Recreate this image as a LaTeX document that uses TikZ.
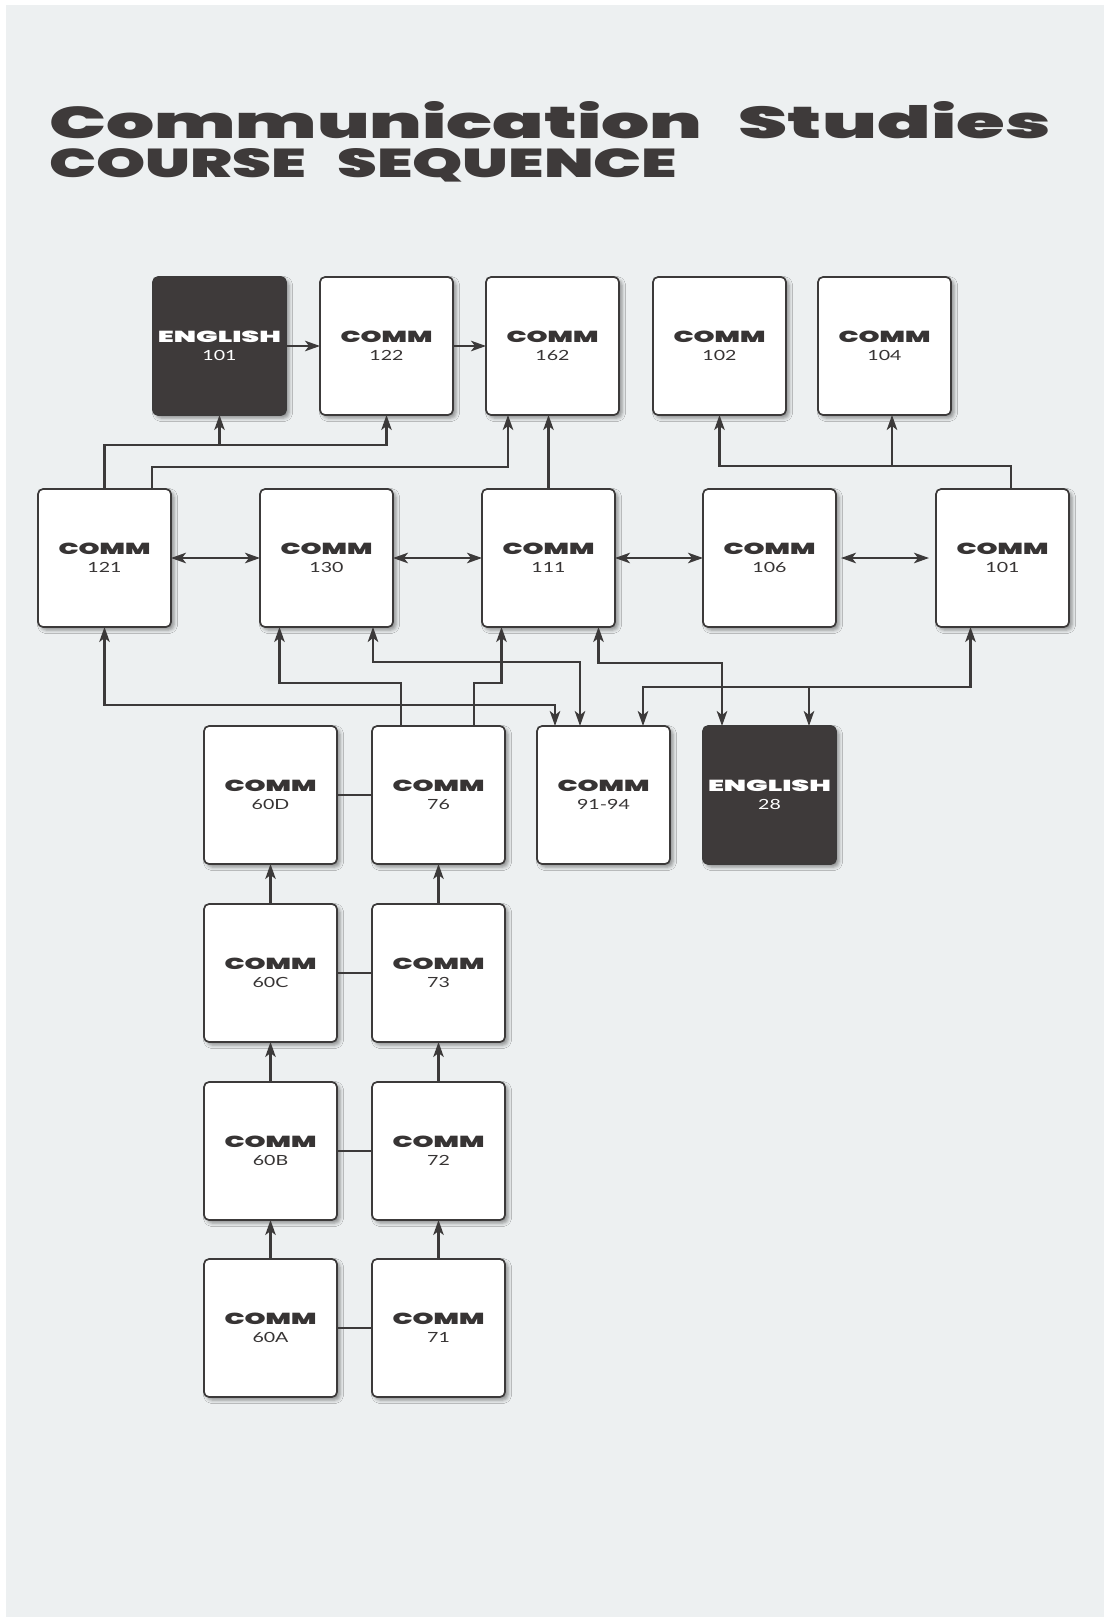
\documentclass[tikz,border=0pt]{standalone}
\usepackage{fontspec}
\usepackage{graphicx}
\usetikzlibrary{arrows.meta,shadows.blur,calc}
\newfontfamily\heavyfont{Poppins Black}
\newfontfamily\numfont{Lato}
\definecolor{bg}{RGB}{237,240,241}
\definecolor{ink}{RGB}{60,58,58}
\definecolor{darkbox}{RGB}{62,58,58}
\definecolor{txt}{RGB}{55,52,52}
\newcommand\clabel[3]{%
  \vbox{\offinterlineskip\halign{\hfil##\hfil\cr
  \resizebox{#2}{11.5pt}{\heavyfont #1}\cr
  \noalign{\kern 8pt}
  \scalebox{1.4}[1]{\numfont\fontsize{14pt}{14pt}\selectfont #3}\cr}}}
\tikzset{
  crs/.style={draw=ink, line width=1.7pt, rounded corners=5pt, fill=white, text=txt,
    minimum width=133pt, minimum height=138pt, inner sep=0pt, outer sep=0pt,
    blur shadow={shadow xshift=3pt, shadow yshift=-3pt, shadow blur radius=3.5pt, shadow opacity=40}},
  eng/.style={crs, fill=darkbox, text=white},
  con/.style={draw=ink, line width=2.1pt},
  tip/.tip={Stealth[length=15pt,width=10.5pt,inset=4pt]},
  arr/.style={con, -tip},
  dbl/.style={con, tip-tip},
}
\begin{document}
\begin{tikzpicture}[x=1pt,y=-1pt]
\fill[white] (0,0) rectangle (1106,1617);
\fill[bg] (6,5) rectangle (1104,1617);
\useasboundingbox (0,0) rectangle (1106,1617);

\node[anchor=base west, inner sep=0pt, text=darkbox] (title) at (49,138)
  {\resizebox{653pt}{37pt}{\heavyfont Communication}\hspace{36pt}\resizebox{312pt}{37pt}{\heavyfont Studies}};
\node[anchor=base west, inner sep=0pt, text=darkbox] (subtitle) at (49,177)
  {\resizebox{257pt}{29pt}{\heavyfont COURSE}\hspace{31pt}\resizebox{340pt}{29pt}{\heavyfont SEQUENCE}};

% row 1
\node[eng] (e101) at (219.5,346) {\clabel{ENGLISH}{123pt}{101}};
\node[crs] (c122) at (386.5,346) {\clabel{COMM}{92pt}{122}};
\node[crs] (c162) at (552.5,346) {\clabel{COMM}{92pt}{162}};
\node[crs] (c102) at (719.5,346) {\clabel{COMM}{92pt}{102}};
\node[crs] (c104) at (884.5,346) {\clabel{COMM}{92pt}{104}};
% row 2
\node[crs] (c121) at (104.5,558) {\clabel{COMM}{92pt}{121}};
\node[crs] (c130) at (326.5,558) {\clabel{COMM}{92pt}{130}};
\node[crs] (c111) at (548.5,558) {\clabel{COMM}{92pt}{111}};
\node[crs] (c106) at (769.5,558) {\clabel{COMM}{92pt}{106}};
\node[crs] (c101) at (1002.5,558) {\clabel{COMM}{92pt}{101}};
% row 3
\node[crs] (c60D) at (270.5,795) {\clabel{COMM}{92pt}{60D}};
\node[crs] (c76) at (438.5,795) {\clabel{COMM}{92pt}{76}};
\node[crs] (c9194) at (603.5,795) {\clabel{COMM}{92pt}{91-94}};
\node[eng] (e28) at (769.5,795) {\clabel{ENGLISH}{123pt}{28}};
% rows 4-6
\node[crs] (c60C) at (270.5,973) {\clabel{COMM}{92pt}{60C}};
\node[crs] (c73) at (438.5,973) {\clabel{COMM}{92pt}{73}};
\node[crs] (c60B) at (270.5,1151) {\clabel{COMM}{92pt}{60B}};
\node[crs] (c72) at (438.5,1151) {\clabel{COMM}{92pt}{72}};
\node[crs] (c60A) at (270.5,1328) {\clabel{COMM}{92pt}{60A}};
\node[crs] (c71) at (438.5,1328) {\clabel{COMM}{92pt}{71}};

% row 1 horizontal
\draw[arr] (e101.east) -- (c122.west);
\draw[arr] (c122.east) -- (c162.west);
% row 2 -> row 1
\draw[arr] (c121.north) |- ([yshift=-30pt]c122.south) -- (c122.south);
\draw[arr] ([yshift=-30pt]e101.south) -- (e101.south);
\draw[arr] ([xshift=47.5pt]c121.north) |- ([xshift=-44.5pt,yshift=-52pt]c162.south) -- ([xshift=-44.5pt]c162.south);
\draw[arr] (c111.north) -- (c111.north |- c162.south);
\draw[arr] ([xshift=8.5pt]c101.north) |- ([yshift=-51pt]c102.south) -- (c102.south);
\draw[arr] ([xshift=7.5pt,yshift=-51pt]c104.south) -- ([xshift=7.5pt]c104.south);
% row 2 horizontal
\draw[dbl] (c121.east) -- (c130.west);
\draw[dbl] (c130.east) -- (c111.west);
\draw[dbl] (c111.east) -- (c106.west);
\draw[dbl, shorten <=5pt, shorten >=7pt] (c106.east) -- (c101.west);
% row 3 <-> row 2
\draw[dbl] (c121.south) |- ([xshift=-48.5pt,yshift=21pt]c9194.north) -- ([xshift=-48.5pt]c9194.north);
\draw[dbl] ([xshift=46.5pt]c130.south) |- ([xshift=-23.5pt,yshift=64pt]c9194.north) -- ([xshift=-23.5pt]c9194.north);
\draw[arr] ([xshift=-37.5pt]c76.north) |- ([xshift=-47pt,yshift=-56pt]c130.south) -- ([xshift=-47pt]c130.south);
\draw[arr] ([xshift=35.5pt]c76.north) |- ([xshift=-47pt,yshift=-56pt]c111.south) -- ([xshift=-47pt]c111.south);
\draw[dbl] ([xshift=50pt]c111.south) |- ([xshift=-47.5pt,yshift=63pt]e28.north) -- ([xshift=-47.5pt]e28.north);
\draw[dbl] ([xshift=-32pt]c101.south) |- ([xshift=39.5pt,yshift=39pt]c9194.north) -- ([xshift=39.5pt]c9194.north);
\draw[arr] ([xshift=39.5pt,yshift=39pt]e28.north) -- ([xshift=39.5pt]e28.north);
% lower columns
\draw[arr] (c60C.north) -- (c60D.south);
\draw[arr] (c73.north) -- (c76.south);
\draw[arr] (c60B.north) -- (c60C.south);
\draw[arr] (c72.north) -- (c73.south);
\draw[arr] (c60A.north) -- (c60B.south);
\draw[arr] (c71.north) -- (c72.south);
\draw[con] (c60D.east) -- (c76.west);
\draw[con] (c60C.east) -- (c73.west);
\draw[con] (c60B.east) -- (c72.west);
\draw[con] (c60A.east) -- (c71.west);
\end{tikzpicture}
\end{document}
